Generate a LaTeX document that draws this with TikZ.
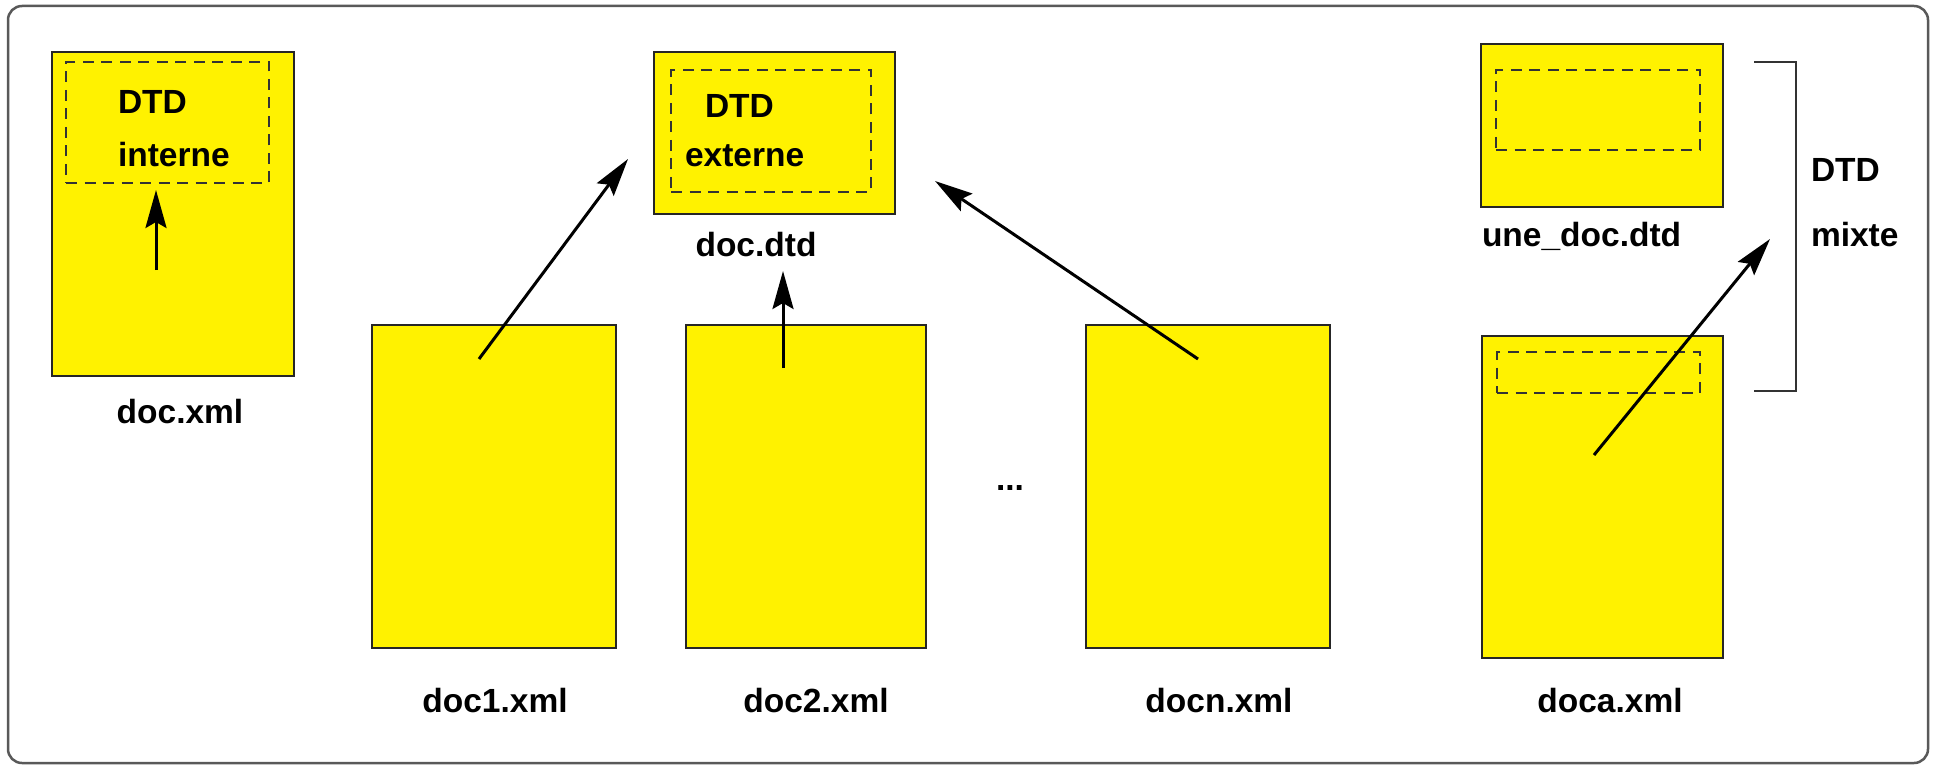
\documentclass[tikz,border=0pt]{standalone}
\usepackage{fontspec}
\setmainfont{Liberation Sans}
\usetikzlibrary{arrows.meta}
\begin{document}
\begin{tikzpicture}[x=1pt,y=-1pt,
  docbox/.style={draw=black!85, line width=2.5pt, fill=yellow, anchor=north west, inner sep=0pt, outer sep=0pt},
  dtdbox/.style={draw=black!80, line width=2.6pt, dash pattern=on 11pt off 7.5pt, anchor=north west, inner sep=0pt, outer sep=0pt},
  lbl/.style={font=\fontsize{33.5}{40}\selectfont\bfseries, inner sep=0pt, outer sep=0pt},
  link/.style={line width=3pt, -{Stealth[length=38pt,width=21pt,inset=6pt]}},
  bracketline/.style={line width=2.5pt, draw=black!80},
]
\useasboundingbox (0,0) rectangle (1934,767);
% outer frame
\draw[rounded corners=14pt, line width=2.5pt, draw=black!65] (8,6) rectangle (1928,763);

% ---- doc.xml (internal DTD)
\node[docbox, minimum width=242pt, minimum height=324pt] (docxml) at (52,52) {};
\node[dtdbox, minimum width=203pt, minimum height=121pt] (intdtd) at (66,62) {};
\node[lbl, anchor=base west] (tdtd1) at (118,114) {DTD};
\node[lbl, anchor=base west] (tinterne) at (118,167) {interne};
\node[lbl, anchor=base] (ldocxml) at (180,423) {doc.xml};
\coordinate (s0) at (156,270);
\coordinate (e0) at (156,190);
\draw[link] (s0) -- (e0);

% ---- doc.dtd (external DTD)
\node[docbox, minimum width=241pt, minimum height=162pt] (docdtd) at (654,52) {};
\node[dtdbox, minimum width=200pt, minimum height=122pt] (extdtd) at (671,70) {};
\node[lbl, anchor=base west] (tdtd2) at (705,118) {DTD};
\node[lbl, anchor=base west] (texterne) at (685,167) {externe};
\node[lbl, anchor=base] (ldocdtd) at (756,257) {doc.dtd};

% ---- doc1, doc2, docn
\node[docbox, minimum width=244pt, minimum height=323pt] (doc1) at (372,325) {};
\node[docbox, minimum width=240pt, minimum height=323pt] (doc2) at (686,325) {};
\node[docbox, minimum width=244pt, minimum height=323pt] (docn) at (1086,325) {};
\node[lbl, anchor=base] (ldoc1) at (495,712) {doc1.xml};
\node[lbl, anchor=base] (ldoc2) at (816,712) {doc2.xml};
\node[lbl, anchor=base] (ldocn) at (1219,712) {docn.xml};
\node[lbl, anchor=base] (dots) at (1010,490) {...};

\coordinate (s1) at (479,359);
\coordinate (e1) at (628,159);
\draw[link] (s1) -- (e1);
\coordinate (s2) at (783,368);
\coordinate (e2) at (783,271);
\draw[link] (s2) -- (e2);
\coordinate (s3) at (1198,359);
\coordinate (e3) at (935,181);
\draw[link] (s3) -- (e3);

% ---- mixed DTD
\node[docbox, minimum width=242pt, minimum height=163pt] (unedtd) at (1481,44) {};
\node[dtdbox, minimum width=204pt, minimum height=80pt] (unedash) at (1496,70) {};
\node[lbl, anchor=base west] (lunedtd) at (1482,247) {une\_doc.dtd};

\node[docbox, minimum width=241pt, minimum height=322pt] (doca) at (1482,336) {};
\node[dtdbox, minimum width=203pt, minimum height=41pt] (docadash) at (1497,352) {};
\node[lbl, anchor=base] (ldoca) at (1610,712) {doca.xml};

\coordinate (bt) at (1754,62);
\coordinate (bb) at (1754,391);
\draw[bracketline] (bt) -- (1796,62) -- (1796,391) -- (bb);
\node[lbl, anchor=base west] (tdtd3) at (1811,182) {DTD};
\node[lbl, anchor=base west] (tmixte) at (1811,247) {mixte};

\coordinate (s4) at (1594,455);
\coordinate (e4) at (1770,239);
\draw[link] (s4) -- (e4);
\end{tikzpicture}
\end{document}
